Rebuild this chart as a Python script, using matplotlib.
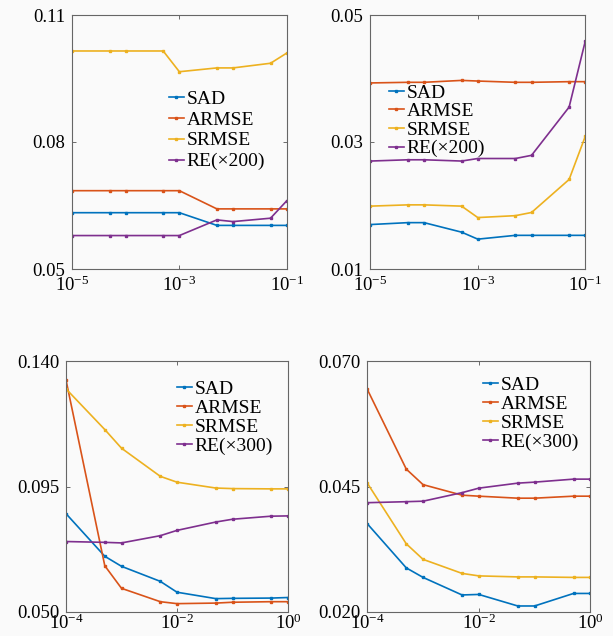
import matplotlib
matplotlib.use("Agg")
import matplotlib.pyplot as plt
from matplotlib.ticker import FixedLocator, NullLocator, FixedFormatter

plt.rcParams['font.family'] = ['Liberation Serif', 'DejaVu Serif']
plt.rcParams['mathtext.fontset'] = 'custom'
plt.rcParams['mathtext.rm'] = 'Liberation Serif'
plt.rcParams['mathtext.it'] = 'Liberation Serif:italic'
plt.rcParams['axes.unicode_minus'] = False

colors = ['#0072BD', '#D95319', '#EDB120', '#7E2F8E']
labels_200 = ['SAD', 'ARMSE', 'SRMSE', 'RE(×200)']
labels_300 = ['SAD', 'ARMSE', 'SRMSE', 'RE(×300)']

# Top row x values
x_top = [1e-5, 5e-5, 1e-4, 5e-4, 1e-3, 5e-3, 1e-2, 5e-2, 1e-1]
# Bottom row x values
x_bot = [1e-4, 5e-4, 1e-3, 5e-3, 1e-2, 5e-2, 1e-1, 5e-1, 1.0]

# Top-left panel
tl_sad = [0.0633, 0.0633, 0.0633, 0.0633, 0.0633, 0.0603, 0.0603, 0.0603, 0.0603]
tl_armse = [0.0685, 0.0685, 0.0685, 0.0685, 0.0685, 0.0642, 0.0642, 0.0642, 0.0642]
tl_srmse = [0.1015, 0.1015, 0.1015, 0.1015, 0.0966, 0.0975, 0.0975, 0.0986, 0.1010]
tl_re = [0.0579, 0.0579, 0.0579, 0.0579, 0.0579, 0.0616, 0.0612, 0.0620, 0.0661]

# Top-right panel
tr_sad = [0.0170, 0.0173, 0.0173, 0.0158, 0.0147, 0.0153, 0.0153, 0.0153, 0.0153]
tr_armse = [0.0393, 0.0394, 0.0394, 0.0397, 0.0396, 0.0394, 0.0394, 0.0395, 0.0395]
tr_srmse = [0.0199, 0.0201, 0.0201, 0.0199, 0.0181, 0.0184, 0.0189, 0.0241, 0.0309]
tr_re = [0.0270, 0.0272, 0.0272, 0.0270, 0.0274, 0.0274, 0.0279, 0.0355, 0.0459]

# Bottom-left panel
bl_sad = [0.0853, 0.0700, 0.0664, 0.0610, 0.0571, 0.0548, 0.0549, 0.0550, 0.0552]
bl_armse = [0.1333, 0.0666, 0.0585, 0.0537, 0.0530, 0.0532, 0.0535, 0.0537, 0.0537]
bl_srmse = [0.1301, 0.1155, 0.1088, 0.0987, 0.0966, 0.0945, 0.0943, 0.0942, 0.0942]
bl_re = [0.0753, 0.0750, 0.0748, 0.0774, 0.0793, 0.0823, 0.0833, 0.0844, 0.0845]

# Bottom-right panel
br_sad = [0.0376, 0.0288, 0.0269, 0.0234, 0.0235, 0.0212, 0.0212, 0.0237, 0.0237]
br_armse = [0.0644, 0.0485, 0.0454, 0.0433, 0.0431, 0.0427, 0.0427, 0.0431, 0.0431]
br_srmse = [0.0457, 0.0336, 0.0305, 0.0277, 0.0272, 0.0270, 0.0270, 0.0269, 0.0269]
br_re = [0.0418, 0.0420, 0.0421, 0.0438, 0.0447, 0.0457, 0.0459, 0.0465, 0.0465]

tl_yticks = [0.05, 0.08, 0.11]
tl_ylabels = ['0.05', '0.08', '0.11']
tr_yticks = [0.01, 0.03, 0.05]
tr_ylabels = ['0.01', '0.03', '0.05']
bl_yticks = [0.050, 0.095, 0.140]
bl_ylabels = ['0.050', '0.095', '0.140']
br_yticks = [0.020, 0.045, 0.070]
br_ylabels = ['0.020', '0.045', '0.070']
top_xticks = [1e-5, 1e-3, 1e-1]
top_xlabels = [r'$\mathregular{10^{-5}}$', r'$\mathregular{10^{-3}}$', r'$\mathregular{10^{-1}}$']
bot_xticks = [1e-4, 1e-2, 1.0]
bot_xlabels = [r'$\mathregular{10^{-4}}$', r'$\mathregular{10^{-2}}$', r'$\mathregular{10^{0}}$']

W, H = 613, 636
fig = plt.figure(figsize=(W / 100, H / 100), dpi=100, facecolor='#fafafa')

def pos(l, r, t, b):
    return [l / W, 1 - b / H, (r - l) / W, (b - t) / H]

panels = [
    dict(rect=pos(72, 286.7, 15, 269), x=x_top, ys=[tl_sad, tl_armse, tl_srmse, tl_re],
         labels=labels_200, yt=tl_yticks, yl=tl_ylabels, xt=top_xticks, xl=top_xlabels,
         leg=(169 / W, 1 - 90 / H), ls=0.17, xpad=5),
    dict(rect=pos(370.3, 585.3, 15, 269), x=x_top, ys=[tr_sad, tr_armse, tr_srmse, tr_re],
         labels=labels_200, yt=tr_yticks, yl=tr_ylabels, xt=top_xticks, xl=top_xlabels,
         leg=(389 / W, 1 - 84 / H), ls=0.05, xpad=5),
    dict(rect=pos(66, 288, 361.3, 612), x=x_bot, ys=[bl_sad, bl_armse, bl_srmse, bl_re],
         labels=labels_300, yt=bl_yticks, yl=bl_ylabels, xt=bot_xticks, xl=bot_xlabels,
         leg=(177 / W, 1 - 380 / H), ls=0.08, xpad=1.5),
    dict(rect=pos(367.3, 590.3, 361.3, 612), x=x_bot, ys=[br_sad, br_armse, br_srmse, br_re],
         labels=labels_300, yt=br_yticks, yl=br_ylabels, xt=bot_xticks, xl=bot_xlabels,
         leg=(483 / W, 1 - 376 / H), ls=0.08, xpad=1.5),
]

for p in panels:
    ax = fig.add_axes(p['rect'])
    ax.set_facecolor('#fafafa')
    for y, c, lab in zip(p['ys'], colors, p['labels']):
        ax.plot(p['x'], y, '-', color=c, lw=1.2, marker='s', ms=2.0, mec=c, mfc=c, label=lab)
    ax.set_xscale('log')
    ax.set_xlim(p['xt'][0], p['xt'][-1])
    ax.set_ylim(p['yt'][0], p['yt'][-1])
    ax.xaxis.set_major_locator(FixedLocator(p['xt']))
    ax.xaxis.set_major_formatter(FixedFormatter(p['xl']))
    ax.xaxis.set_minor_locator(NullLocator())
    ax.set_yticks(p['yt'])
    ax.set_yticklabels(p['yl'])
    ax.tick_params(direction='in', top=True, right=True, length=3, width=0.6,
                   color='#555555', labelsize=13.5)
    ax.tick_params(axis='y', pad=5)
    ax.tick_params(axis='x', pad=p['xpad'])
    for s in ax.spines.values():
        s.set_color('#666666')
        s.set_linewidth(0.8)
    ax.legend(loc='upper left', bbox_to_anchor=p['leg'], bbox_transform=fig.transFigure,
              frameon=False, fontsize=14, handlelength=0.75, handletextpad=0.15,
              borderpad=0, borderaxespad=0, labelspacing=p['ls'])

fig.savefig('out.png', dpi=100, facecolor=fig.get_facecolor())
